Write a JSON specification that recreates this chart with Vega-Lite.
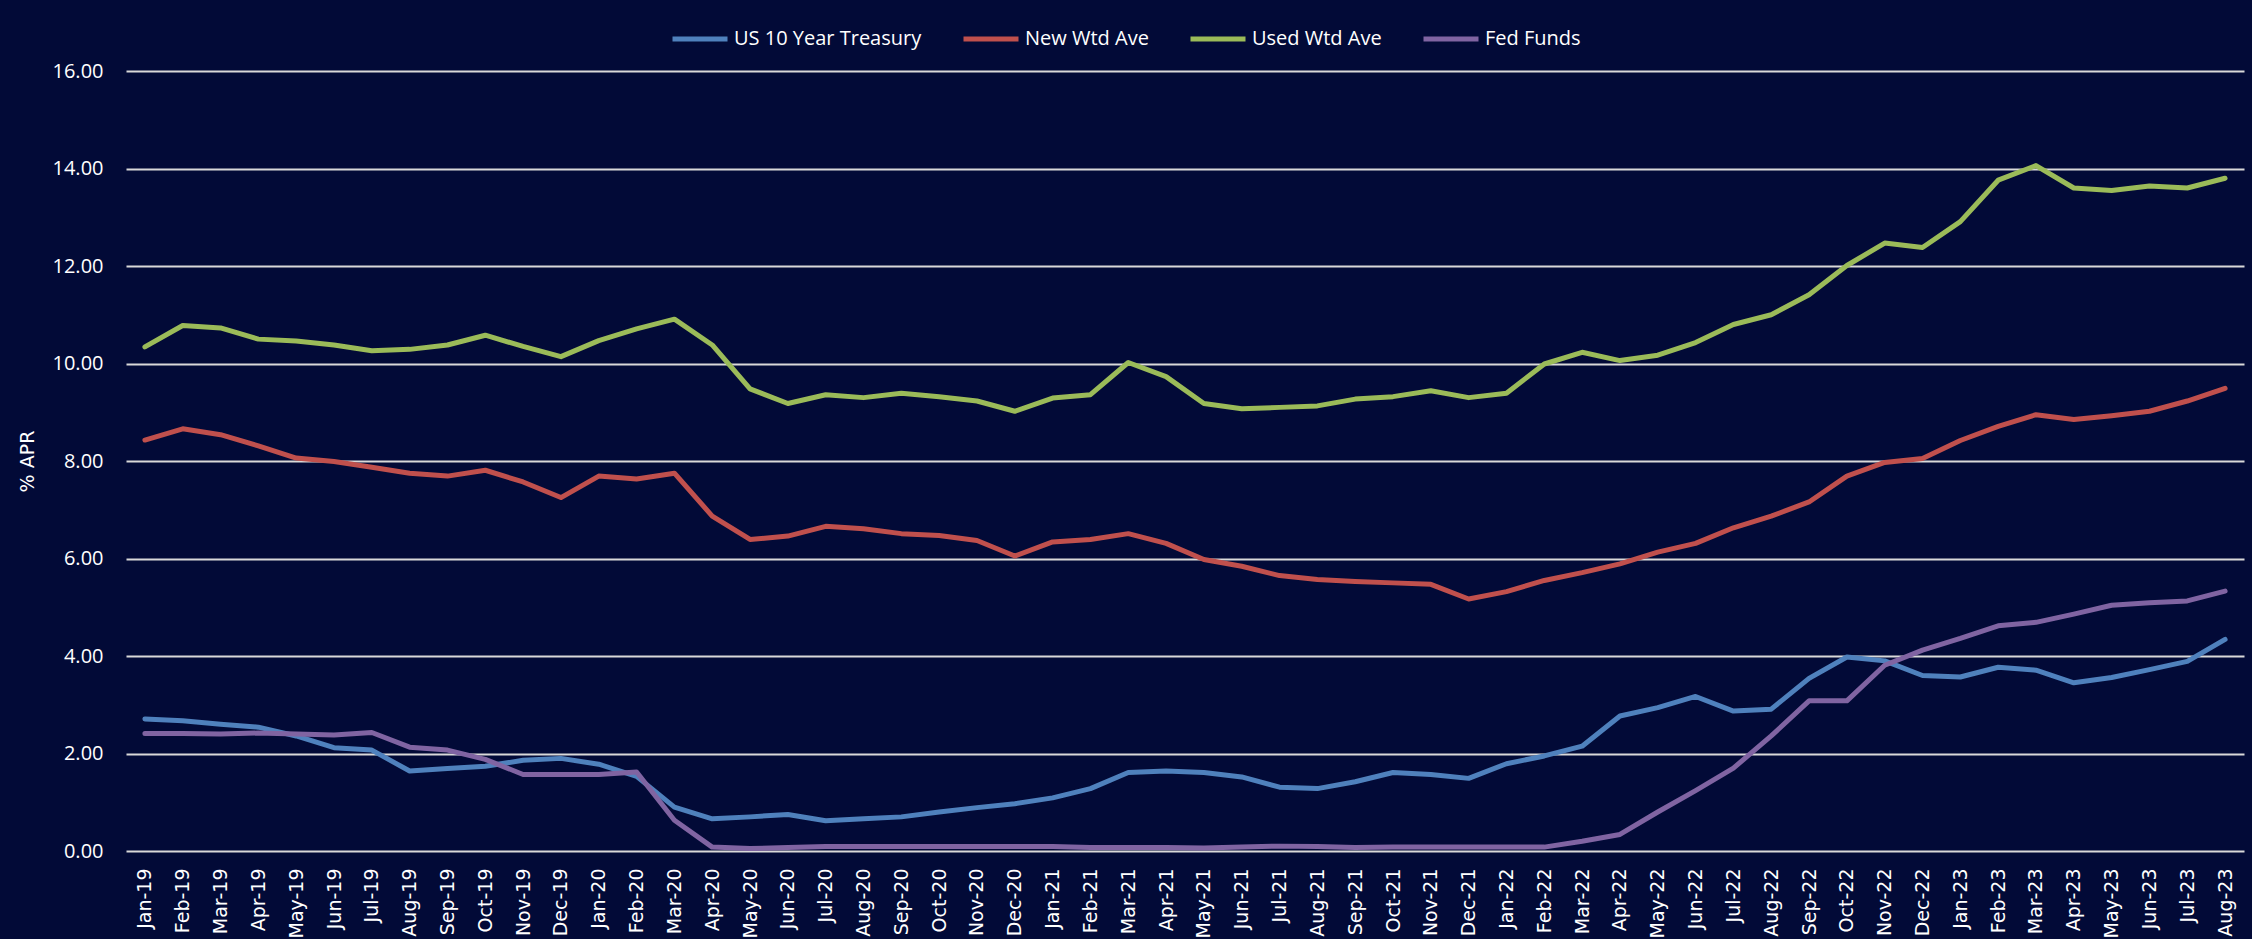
{
  "$schema": "https://vega.github.io/schema/vega-lite/v6.json",
  "width": 2118,
  "height": 780,
  "autosize": {"type": "none"},
  "padding": {"left": 126, "top": 71, "right": 8, "bottom": 88},
  "background": "#020a37",
  "config": {"view": {"stroke": null}},
  "data": {
    "values": [
      {"month": "Jan-19", "US 10 Year Treasury": 2.71, "New Wtd Ave": 8.43, "Used Wtd Ave": 10.34, "Fed Funds": 2.41},
      {"month": "Feb-19", "US 10 Year Treasury": 2.67, "New Wtd Ave": 8.66, "Used Wtd Ave": 10.78, "Fed Funds": 2.41},
      {"month": "Mar-19", "US 10 Year Treasury": 2.60, "New Wtd Ave": 8.54, "Used Wtd Ave": 10.73, "Fed Funds": 2.40},
      {"month": "Apr-19", "US 10 Year Treasury": 2.54, "New Wtd Ave": 8.31, "Used Wtd Ave": 10.50, "Fed Funds": 2.42},
      {"month": "May-19", "US 10 Year Treasury": 2.36, "New Wtd Ave": 8.06, "Used Wtd Ave": 10.46, "Fed Funds": 2.40},
      {"month": "Jun-19", "US 10 Year Treasury": 2.12, "New Wtd Ave": 7.99, "Used Wtd Ave": 10.38, "Fed Funds": 2.38},
      {"month": "Jul-19", "US 10 Year Treasury": 2.07, "New Wtd Ave": 7.87, "Used Wtd Ave": 10.26, "Fed Funds": 2.43},
      {"month": "Aug-19", "US 10 Year Treasury": 1.64, "New Wtd Ave": 7.75, "Used Wtd Ave": 10.29, "Fed Funds": 2.13},
      {"month": "Sep-19", "US 10 Year Treasury": 1.69, "New Wtd Ave": 7.69, "Used Wtd Ave": 10.38, "Fed Funds": 2.07},
      {"month": "Oct-19", "US 10 Year Treasury": 1.74, "New Wtd Ave": 7.81, "Used Wtd Ave": 10.58, "Fed Funds": 1.88},
      {"month": "Nov-19", "US 10 Year Treasury": 1.86, "New Wtd Ave": 7.57, "Used Wtd Ave": 10.35, "Fed Funds": 1.57},
      {"month": "Dec-19", "US 10 Year Treasury": 1.90, "New Wtd Ave": 7.25, "Used Wtd Ave": 10.14, "Fed Funds": 1.57},
      {"month": "Jan-20", "US 10 Year Treasury": 1.78, "New Wtd Ave": 7.69, "Used Wtd Ave": 10.47, "Fed Funds": 1.57},
      {"month": "Feb-20", "US 10 Year Treasury": 1.53, "New Wtd Ave": 7.63, "Used Wtd Ave": 10.71, "Fed Funds": 1.62},
      {"month": "Mar-20", "US 10 Year Treasury": 0.90, "New Wtd Ave": 7.75, "Used Wtd Ave": 10.91, "Fed Funds": 0.63},
      {"month": "Apr-20", "US 10 Year Treasury": 0.66, "New Wtd Ave": 6.87, "Used Wtd Ave": 10.38, "Fed Funds": 0.08},
      {"month": "May-20", "US 10 Year Treasury": 0.70, "New Wtd Ave": 6.39, "Used Wtd Ave": 9.48, "Fed Funds": 0.05},
      {"month": "Jun-20", "US 10 Year Treasury": 0.75, "New Wtd Ave": 6.46, "Used Wtd Ave": 9.18, "Fed Funds": 0.07},
      {"month": "Jul-20", "US 10 Year Treasury": 0.62, "New Wtd Ave": 6.66, "Used Wtd Ave": 9.36, "Fed Funds": 0.09},
      {"month": "Aug-20", "US 10 Year Treasury": 0.66, "New Wtd Ave": 6.61, "Used Wtd Ave": 9.30, "Fed Funds": 0.09},
      {"month": "Sep-20", "US 10 Year Treasury": 0.70, "New Wtd Ave": 6.51, "Used Wtd Ave": 9.39, "Fed Funds": 0.09},
      {"month": "Oct-20", "US 10 Year Treasury": 0.80, "New Wtd Ave": 6.47, "Used Wtd Ave": 9.32, "Fed Funds": 0.09},
      {"month": "Nov-20", "US 10 Year Treasury": 0.89, "New Wtd Ave": 6.37, "Used Wtd Ave": 9.23, "Fed Funds": 0.09},
      {"month": "Dec-20", "US 10 Year Treasury": 0.97, "New Wtd Ave": 6.05, "Used Wtd Ave": 9.02, "Fed Funds": 0.09},
      {"month": "Jan-21", "US 10 Year Treasury": 1.09, "New Wtd Ave": 6.34, "Used Wtd Ave": 9.29, "Fed Funds": 0.09},
      {"month": "Feb-21", "US 10 Year Treasury": 1.28, "New Wtd Ave": 6.39, "Used Wtd Ave": 9.36, "Fed Funds": 0.07},
      {"month": "Mar-21", "US 10 Year Treasury": 1.61, "New Wtd Ave": 6.51, "Used Wtd Ave": 10.02, "Fed Funds": 0.07},
      {"month": "Apr-21", "US 10 Year Treasury": 1.64, "New Wtd Ave": 6.31, "Used Wtd Ave": 9.73, "Fed Funds": 0.07},
      {"month": "May-21", "US 10 Year Treasury": 1.61, "New Wtd Ave": 5.98, "Used Wtd Ave": 9.18, "Fed Funds": 0.06},
      {"month": "Jun-21", "US 10 Year Treasury": 1.52, "New Wtd Ave": 5.84, "Used Wtd Ave": 9.07, "Fed Funds": 0.08},
      {"month": "Jul-21", "US 10 Year Treasury": 1.31, "New Wtd Ave": 5.65, "Used Wtd Ave": 9.10, "Fed Funds": 0.10},
      {"month": "Aug-21", "US 10 Year Treasury": 1.28, "New Wtd Ave": 5.57, "Used Wtd Ave": 9.13, "Fed Funds": 0.09},
      {"month": "Sep-21", "US 10 Year Treasury": 1.42, "New Wtd Ave": 5.53, "Used Wtd Ave": 9.27, "Fed Funds": 0.07},
      {"month": "Oct-21", "US 10 Year Treasury": 1.61, "New Wtd Ave": 5.50, "Used Wtd Ave": 9.32, "Fed Funds": 0.08},
      {"month": "Nov-21", "US 10 Year Treasury": 1.57, "New Wtd Ave": 5.47, "Used Wtd Ave": 9.44, "Fed Funds": 0.08},
      {"month": "Dec-21", "US 10 Year Treasury": 1.49, "New Wtd Ave": 5.17, "Used Wtd Ave": 9.30, "Fed Funds": 0.08},
      {"month": "Jan-22", "US 10 Year Treasury": 1.79, "New Wtd Ave": 5.32, "Used Wtd Ave": 9.39, "Fed Funds": 0.08},
      {"month": "Feb-22", "US 10 Year Treasury": 1.95, "New Wtd Ave": 5.55, "Used Wtd Ave": 9.99, "Fed Funds": 0.08},
      {"month": "Mar-22", "US 10 Year Treasury": 2.15, "New Wtd Ave": 5.71, "Used Wtd Ave": 10.23, "Fed Funds": 0.20},
      {"month": "Apr-22", "US 10 Year Treasury": 2.77, "New Wtd Ave": 5.89, "Used Wtd Ave": 10.06, "Fed Funds": 0.34},
      {"month": "May-22", "US 10 Year Treasury": 2.94, "New Wtd Ave": 6.13, "Used Wtd Ave": 10.17, "Fed Funds": 0.80},
      {"month": "Jun-22", "US 10 Year Treasury": 3.17, "New Wtd Ave": 6.31, "Used Wtd Ave": 10.43, "Fed Funds": 1.24},
      {"month": "Jul-22", "US 10 Year Treasury": 2.87, "New Wtd Ave": 6.63, "Used Wtd Ave": 10.80, "Fed Funds": 1.70},
      {"month": "Aug-22", "US 10 Year Treasury": 2.91, "New Wtd Ave": 6.87, "Used Wtd Ave": 11.00, "Fed Funds": 2.36},
      {"month": "Sep-22", "US 10 Year Treasury": 3.54, "New Wtd Ave": 7.16, "Used Wtd Ave": 11.41, "Fed Funds": 3.08},
      {"month": "Oct-22", "US 10 Year Treasury": 3.98, "New Wtd Ave": 7.69, "Used Wtd Ave": 12.01, "Fed Funds": 3.08},
      {"month": "Nov-22", "US 10 Year Treasury": 3.90, "New Wtd Ave": 7.97, "Used Wtd Ave": 12.47, "Fed Funds": 3.81},
      {"month": "Dec-22", "US 10 Year Treasury": 3.60, "New Wtd Ave": 8.05, "Used Wtd Ave": 12.38, "Fed Funds": 4.12},
      {"month": "Jan-23", "US 10 Year Treasury": 3.57, "New Wtd Ave": 8.42, "Used Wtd Ave": 12.91, "Fed Funds": 4.36},
      {"month": "Feb-23", "US 10 Year Treasury": 3.77, "New Wtd Ave": 8.71, "Used Wtd Ave": 13.76, "Fed Funds": 4.62},
      {"month": "Mar-23", "US 10 Year Treasury": 3.71, "New Wtd Ave": 8.95, "Used Wtd Ave": 14.06, "Fed Funds": 4.69},
      {"month": "Apr-23", "US 10 Year Treasury": 3.45, "New Wtd Ave": 8.85, "Used Wtd Ave": 13.60, "Fed Funds": 4.86},
      {"month": "May-23", "US 10 Year Treasury": 3.56, "New Wtd Ave": 8.93, "Used Wtd Ave": 13.55, "Fed Funds": 5.04},
      {"month": "Jun-23", "US 10 Year Treasury": 3.72, "New Wtd Ave": 9.02, "Used Wtd Ave": 13.64, "Fed Funds": 5.09},
      {"month": "Jul-23", "US 10 Year Treasury": 3.89, "New Wtd Ave": 9.23, "Used Wtd Ave": 13.60, "Fed Funds": 5.13},
      {"month": "Aug-23", "US 10 Year Treasury": 4.34, "New Wtd Ave": 9.49, "Used Wtd Ave": 13.80, "Fed Funds": 5.33}
    ]
  },
  "transform": [
    {"fold": ["US 10 Year Treasury", "New Wtd Ave", "Used Wtd Ave", "Fed Funds"], "as": ["series", "value"]}
  ],
  "mark": {"type": "line", "strokeWidth": 5, "strokeCap": "round", "strokeJoin": "round"},
  "encoding": {
    "x": {
      "field": "month",
      "type": "ordinal",
      "sort": null,
      "scale": {"type": "point", "padding": 0.5},
      "axis": {
        "title": null,
        "labelAngle": -90,
        "labelFont": "DejaVu Sans",
        "labelFontSize": 19,
        "labelColor": "#ffffff",
        "labelPadding": 17,
        "labelOverlap": false,
        "ticks": false,
        "domain": false,
        "grid": false
      }
    },
    "y": {
      "field": "value",
      "type": "quantitative",
      "scale": {"domain": [0, 16]},
      "axis": {
        "title": "% APR",
        "titleFont": "DejaVu Sans",
        "titleFontSize": 19,
        "titleFontWeight": "normal",
        "titleColor": "#ffffff",
        "titleX": -99,
        "titleY": 390,
        "titleAlign": "center",
        "titleBaseline": "middle",
        "titleAngle": -90,
        "values": [0, 2, 4, 6, 8, 10, 12, 14, 16],
        "format": ".2f",
        "labelFont": "Open Sans",
        "labelFontSize": 20,
        "labelColor": "#ffffff",
        "labelPadding": 23,
        "ticks": false,
        "domain": false,
        "grid": true,
        "gridColor": "#d9d9d9",
        "gridWidth": 2,
        "gridOpacity": 1
      }
    },
    "color": {
      "field": "series",
      "type": "nominal",
      "scale": {
        "domain": ["US 10 Year Treasury", "New Wtd Ave", "Used Wtd Ave", "Fed Funds"],
        "range": ["#4f81bd", "#c0504d", "#9bbb59", "#8064a2"]
      },
      "legend": {
        "orient": "none",
        "legendX": 544,
        "legendY": -62,
        "direction": "horizontal",
        "title": null,
        "symbolType": "stroke",
        "symbolSize": 3025,
        "symbolStrokeWidth": 5,
        "symbolOpacity": 1,
        "labelFont": "Open Sans",
        "labelFontSize": 20,
        "labelColor": "#ffffff",
        "labelLimit": 0,
        "labelOffset": 4,
        "columnPadding": 31
      }
    }
  }
}
